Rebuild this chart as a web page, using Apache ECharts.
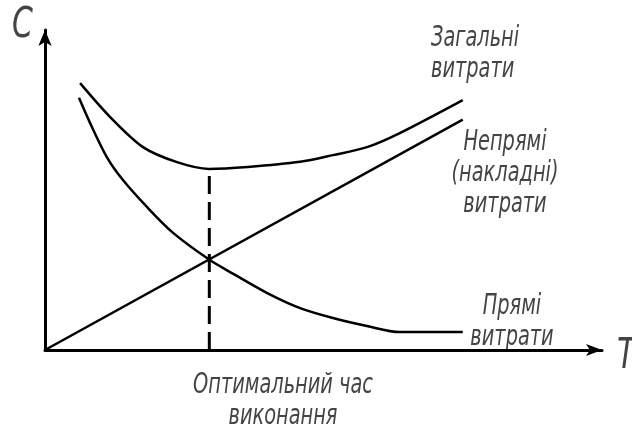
<!DOCTYPE html>
<html>
<head>
<meta charset="utf-8">
<script src="https://cdn.jsdelivr.net/npm/echarts@6/dist/echarts.min.js"></script>
<style>html,body{margin:0;padding:0;background:#fff}#c{width:632px;height:430px}</style>
</head>
<body>
<div id="c"></div>
<script>
// Time T (arbitrary units 0..100), cost C (arbitrary units 0..100)
const directT = [6.1, 8.1, 11.1, 14.0, 18.3, 23.0, 29.6, 33.8, 39.9, 45.8, 51.7, 57.8, 63.7, 75.0];
const directC = [78.8, 70.9, 60.3, 53.1, 44.7, 36.6, 28.1, 23.8, 17.8, 13.1, 10.0, 7.5, 5.6, 5.6];
const indirectT = [0, 75.0];
const indirectC = [0, 72.0];
const totalT = [6.3, 11.7, 17.6, 23.7, 29.4, 36.4, 45.8, 51.7, 57.8, 63.7, 75.0];
const totalC = [83.4, 72.8, 63.4, 58.7, 56.6, 57.2, 58.8, 60.9, 63.4, 67.8, 78.1];
const optimalT = 29.5;
const optimalC = 56.6;

const labelTotal = ['Загальні', 'витрати'];
const labelIndirect = ['Непрямі', '(накладні)', 'витрати'];
const labelDirect = ['Прямі', 'витрати'];
const labelOptimal = ['Оптимальний час', 'виконання'];
const axisNameY = 'С';
const axisNameX = 'Т';

const zip = (a, b) => a.map((v, i) => [v, b[i]]);
const font = '"DejaVu Sans", sans-serif';
const baseText = { fontFamily: font, fontStyle: 'italic', fontSize: 22, fontWeight: 200, fill: '#444', lineHeight: 25, verticalAlign: 'top' };
function label(x, y, lines, align, extra) {
  return { type: 'text', x: x, y: y, scaleX: 0.88, scaleY: 1.25,
    style: Object.assign({}, baseText, { text: lines.join('\n'), align: align }, extra || {}) };
}

const chart = echarts.init(document.getElementById('c'));
const lineStyle = { color: '#000', width: 2.5 };
chart.setOption({
  animation: false,
  backgroundColor: '#fff',
  grid: { left: 45, right: 30, top: 30, bottom: 80 },
  xAxis: {
    type: 'value', min: 0, max: 100,
    axisLine: { lineStyle: { color: '#000', width: 3 }, symbol: ['none', 'arrow'], symbolSize: [9, 16] },
    axisTick: { show: false }, axisLabel: { show: false }, splitLine: { show: false }
  },
  yAxis: {
    type: 'value', min: 0, max: 100,
    axisLine: { show: true, lineStyle: { color: '#000', width: 3 }, symbol: ['none', 'arrow'], symbolSize: [10, 16] },
    axisTick: { show: false }, axisLabel: { show: false }, splitLine: { show: false }
  },
  series: [
    { type: 'line', data: zip(directT, directC), smooth: 0.3, showSymbol: false, lineStyle },
    { type: 'line', data: zip(indirectT, indirectC), showSymbol: false, lineStyle },
    { type: 'line', data: zip(totalT, totalC), smooth: 0.3, showSymbol: false, lineStyle },
    { type: 'line', data: [[optimalT, 0], [optimalT, optimalC]], showSymbol: false,
      lineStyle: { color: '#000', width: 3, type: [18, 8] } }
  ],
  graphic: [
    label(12, 10, [axisNameY], 'left', { fontSize: 34 }),
    label(617, 341, [axisNameX], 'left', { fontSize: 34 }),
    label(431, 23, labelTotal, 'left'),
    label(505, 127, labelIndirect, 'center'),
    label(512, 291, labelDirect, 'center'),
    label(283, 370, labelOptimal, 'center')
  ]
});
</script>
</body>
</html>
